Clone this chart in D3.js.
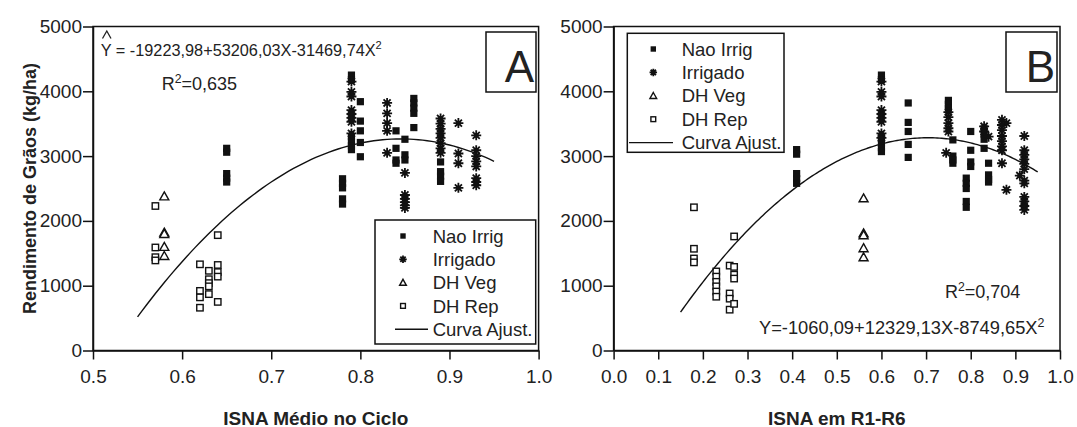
<!DOCTYPE html>
<html><head><meta charset="utf-8">
<script src="https://cdn.jsdelivr.net/npm/d3@7"></script>
<style>html,body{margin:0;padding:0;background:#fff}svg{display:block}</style>
</head><body>
<svg id="c" width="1077" height="427"></svg>
<script>
// ---------- DATA ----------
const yTicks = [0,1000,2000,3000,4000,5000];
const xTicksA = [0.5,0.6,0.7,0.8,0.9,1.0];
const xTicksB = [0.0,0.1,0.2,0.3,0.4,0.5,0.6,0.7,0.8,0.9,1.0];
const legendLabels = ["Nao Irrig","Irrigado","DH Veg","DH Rep","Curva Ajust."];
const coefA = [-19223.98, 53206.03, -31469.74];
const coefB = [-1060.09, 12329.13, -8749.65];
const rangeA = [0.55, 0.95];
const rangeB = [0.15, 0.95];

// Panel A
const naoIrrigA = [
 [0.65,3120],[0.65,3060],[0.65,2730],[0.65,2660],[0.65,2600],
 [0.78,2650],[0.78,2580],[0.78,2510],[0.78,2340],[0.78,2260],
 [0.79,4250],[0.79,4180],[0.79,3300],[0.79,3230],[0.79,3160],[0.79,3100],
 [0.80,3840],[0.80,3540],[0.80,3390],[0.80,3210],[0.80,2990],
 [0.84,3390],[0.84,3120],[0.84,2940],[0.84,2890],
 [0.85,3260],[0.85,3020],[0.85,2940],
 [0.86,3890],[0.86,3820],[0.86,3740],[0.86,3660],[0.86,3440],
 [0.89,2910],[0.89,2760],[0.89,2690],[0.89,2610]
];
const irrigadoA = [
 [0.79,4150],[0.79,3990],[0.79,3920],[0.79,3710],[0.79,3650],[0.79,3590],[0.79,3530],[0.79,3350],
 [0.83,3820],[0.83,3660],[0.83,3510],[0.83,3390],[0.83,3050],
 [0.85,2740],[0.85,2400],[0.85,2340],[0.85,2290],[0.85,2240],[0.85,2200],
 [0.89,3580],[0.89,3500],[0.89,3420],[0.89,3350],[0.89,3280],[0.89,3200],[0.89,3120],[0.89,3050],
 [0.91,3510],[0.91,3040],[0.91,2890],[0.91,2510],
 [0.93,3320],[0.93,3090],[0.93,3000],[0.93,2920],[0.93,2840],[0.93,2660],[0.93,2600],[0.93,2550]
];
const dhVegA = [[0.58,2380],[0.58,1820],[0.58,1800],[0.58,1600],[0.58,1460]];
const dhRepA = [
 [0.57,2230],[0.57,1590],[0.57,1440],[0.57,1390],
 [0.62,1330],[0.62,920],[0.62,820],[0.62,660],
 [0.63,1230],[0.63,1100],[0.63,1040],[0.63,990],[0.63,870],
 [0.64,1780],[0.64,1320],[0.64,1210],[0.64,1140],[0.64,750]
];

// Panel B
const naoIrrigB = [
 [0.41,3100],[0.41,3030],[0.41,2730],[0.41,2650],[0.41,2580],
 [0.60,4250],[0.60,4180],[0.60,3280],[0.60,3200],[0.60,3130],[0.60,3070],
 [0.66,3820],[0.66,3520],[0.66,3380],[0.66,3180],[0.66,2980],
 [0.75,3860],[0.75,3800],[0.75,3740],
 [0.76,3250],[0.76,3000],[0.76,2940],[0.76,2890],
 [0.79,2660],[0.79,2580],[0.79,2500],[0.79,2300],[0.79,2210],
 [0.80,3380],[0.80,3090],[0.80,2910],[0.80,2840],
 [0.83,3420],[0.83,3340],[0.83,3260],[0.83,3120],
 [0.84,2890],[0.84,2710],[0.84,2640],[0.84,2600]
];
const irrigadoB = [
 [0.60,4150],[0.60,3990],[0.60,3920],[0.60,3710],[0.60,3650],[0.60,3590],[0.60,3530],[0.60,3350],[0.60,3280],
 [0.75,3680],[0.75,3600],[0.75,3510],[0.75,3430],[0.75,3380],[0.745,3050],
 [0.83,3460],[0.83,3380],[0.84,3300],
 [0.87,3560],[0.87,3480],[0.87,3400],[0.87,3310],[0.87,3230],[0.87,3150],[0.87,3090],[0.87,2890],
 [0.88,3510],[0.88,2480],
 [0.91,2700],
 [0.92,3310],[0.92,3090],[0.92,3020],[0.92,2950],[0.92,2880],[0.92,2800],[0.92,2620],[0.92,2580],
 [0.92,2370],[0.92,2300],[0.92,2230],[0.92,2170]
];
const dhVegB = [[0.56,2350],[0.56,1810],[0.56,1780],[0.56,1580],[0.56,1440]];
const dhRepB = [
 [0.18,2210],[0.18,1570],[0.18,1420],[0.18,1360],
 [0.23,1220],[0.23,1140],[0.23,1060],[0.23,990],[0.23,910],[0.23,830],
 [0.26,1310],[0.26,880],[0.26,800],[0.26,630],
 [0.27,1760],[0.27,1290],[0.27,1170],[0.27,1110],[0.27,720]
];

// ---------- DRAW ----------
const FONT = "'Liberation Sans', Arial, Helvetica, sans-serif";
const svg = d3.select("#c");
const y = d3.scaleLinear().domain([0,5000]).range([350.5,26.5]);

function starPath(r){
  let p="";
  for(let k=0;k<4;k++){
    const a=k*Math.PI/4, dx=r*Math.cos(a), dy=r*Math.sin(a);
    p+=`M${(-dx).toFixed(2)},${(-dy).toFixed(2)}L${dx.toFixed(2)},${dy.toFixed(2)}`;
  }
  return p;
}
function drawMarker(g, type, cx, cy, s){
  if(type===0){
    g.append("rect").attr("x",cx-s*3.6).attr("y",cy-s*3.6).attr("width",s*7.2).attr("height",s*7.2).attr("fill","#111");
  } else if(type===1){
    g.append("path").attr("d",starPath(s*5)).attr("transform",`translate(${cx},${cy})`)
      .attr("stroke","#111").attr("stroke-width",1.8).attr("fill","none");
    g.append("circle").attr("cx",cx).attr("cy",cy).attr("r",s*2.4).attr("fill","#111");
  } else if(type===2){
    const h=s*8, w=s*9;
    g.append("path").attr("d",`M${cx},${cy-h*0.55}L${cx+w/2},${cy+h*0.45}L${cx-w/2},${cy+h*0.45}Z`)
      .attr("fill","#fff").attr("stroke","#111").attr("stroke-width",1.4);
  } else {
    g.append("rect").attr("x",cx-s*3.2).attr("y",cy-s*3.2).attr("width",s*6.4).attr("height",s*6.4)
      .attr("fill","#fff").attr("stroke","#111").attr("stroke-width",1.4);
  }
}

function panel(opts){
  const {x, xTicks, series, coef, range, left, right, letterBox, letter, legend} = opts;
  const g = svg.append("g");
  g.append("rect").attr("x",left).attr("y",y(5000)).attr("width",right-left).attr("height",y(0)-y(5000))
    .attr("fill","none").attr("stroke","#111").attr("stroke-width",1.5);
  const ax = g.append("g").attr("transform",`translate(0,${y(0)})`)
    .call(d3.axisBottom(x).tickValues(xTicks).tickFormat(d3.format(".1f")).tickSize(9).tickPadding(10).tickSizeOuter(0));
  const ay = g.append("g").attr("transform",`translate(${left},0)`)
    .call(d3.axisLeft(y).tickValues(yTicks).tickFormat(d3.format("d")).tickSize(10).tickPadding(1).tickSizeOuter(0));
  [ax,ay].forEach(a=>{
    a.select(".domain").attr("stroke","#111").attr("stroke-width",1.5);
    a.selectAll(".tick line").attr("stroke","#111").attr("stroke-width",1.5);
    a.selectAll(".tick text").attr("font-family",FONT).attr("font-size",19).attr("fill","#222");
  });
  const dg = g.append("g");
  series.forEach((data,i)=>{
    data.forEach(d=>drawMarker(dg, i, x(d[0]), y(d[1]), 1));
  });
  const xs = d3.range(range[0], range[1]+1e-9, 0.005);
  const line = d3.line().x(d=>x(d)).y(d=>y(coef[0]+coef[1]*d+coef[2]*d*d));
  g.append("path").datum(xs).attr("d",line).attr("fill","none").attr("stroke","#111").attr("stroke-width",1.4);
  g.append("rect").attr("x",letterBox[0]).attr("y",letterBox[1]).attr("width",letterBox[2]).attr("height",letterBox[3])
    .attr("fill","#fff").attr("stroke","#111").attr("stroke-width",1.5);
  g.append("text").attr("x",letterBox[0]+letterBox[2]-2).attr("y",letterBox[1]+50).attr("text-anchor","end")
    .attr("font-family",FONT).attr("font-size",44).attr("fill","#222").text(letter);
  const L = legend;
  const lg = g.append("g");
  lg.append("rect").attr("x",L.x0).attr("y",L.y0).attr("width",L.x1-L.x0).attr("height",L.y1-L.y0)
    .attr("fill","#fff").attr("stroke","#111").attr("stroke-width",1.5);
  legendLabels.forEach((lab,i)=>{
    const cy = L.rowY + i*L.dy;
    if(i<4) drawMarker(lg, i, L.sx, cy, 0.75);
    else lg.append("line").attr("x1",L.lx0).attr("x2",L.lx1).attr("y1",cy).attr("y2",cy)
      .attr("stroke","#111").attr("stroke-width",1.4);
    lg.append("text").attr("x",L.tx).attr("y",cy+6.6).attr("font-family",FONT).attr("font-size",18.5)
      .attr("fill","#222").text(lab);
  });
  return g;
}

const xA = d3.scaleLinear().domain([0.5,1.0]).range([93,538.6]);
const xB = d3.scaleLinear().domain([0,1.0]).range([613.6,1060]);

panel({x:xA, xTicks:xTicksA, series:[naoIrrigA,irrigadoA,dhVegA,dhRepA], coef:coefA, range:rangeA,
  left:93, right:538.6, letterBox:[486,32,50,60], letter:"A",
  legend:{x0:375,y0:220,x1:535.7,y1:344,rowY:236,dy:23.3,sx:403,lx0:395,lx1:428,tx:432.7}});
panel({x:xB, xTicks:xTicksB, series:[naoIrrigB,irrigadoB,dhVegB,dhRepB], coef:coefB, range:rangeB,
  left:613.6, right:1060, letterBox:[1006,32,51,60], letter:"B",
  legend:{x0:627.3,y0:33.3,x1:784,y1:152.3,rowY:49,dy:23.4,sx:653.3,lx0:629,lx1:673,tx:681.7}});

function eq(xp, yp, fs, main, tail){
  const t = svg.append("text").attr("x",xp).attr("y",yp).attr("font-family",FONT).attr("font-size",fs).attr("fill","#222");
  t.append("tspan").text(main);
  t.append("tspan").attr("dy",-fs*0.4).attr("font-size",fs*0.68).text("2");
  if(tail) t.append("tspan").attr("dy",fs*0.4).text(tail);
  return t;
}
eq(100.7, 55.5, 16.3, "Y = -19223,98+53206,03X-31469,74X", null);
svg.append("path").attr("d","M102.5,38.5L106.8,31L111,38.5").attr("fill","none").attr("stroke","#222").attr("stroke-width",1.3);
eq(161.7, 90, 18, "R", "=0,635");
eq(945, 298, 18, "R", "=0,704");
eq(759, 334, 18.3, "Y=-1060,09+12329,13X-8749,65X", null);

svg.append("text").attr("transform","translate(36,188.5) rotate(-90)").attr("text-anchor","middle")
  .attr("font-family",FONT).attr("font-weight","bold").attr("font-size",18).attr("fill","#222")
  .text("Rendimento de Grãos (kg/ha)");
svg.append("text").attr("x",315.8).attr("y",424.5).attr("text-anchor","middle")
  .attr("font-family",FONT).attr("font-weight","bold").attr("font-size",19).attr("fill","#222")
  .text("ISNA Médio no Ciclo");
svg.append("text").attr("x",836.8).attr("y",424.5).attr("text-anchor","middle")
  .attr("font-family",FONT).attr("font-weight","bold").attr("font-size",19).attr("fill","#222")
  .text("ISNA em R1-R6");
</script>
</body></html>
